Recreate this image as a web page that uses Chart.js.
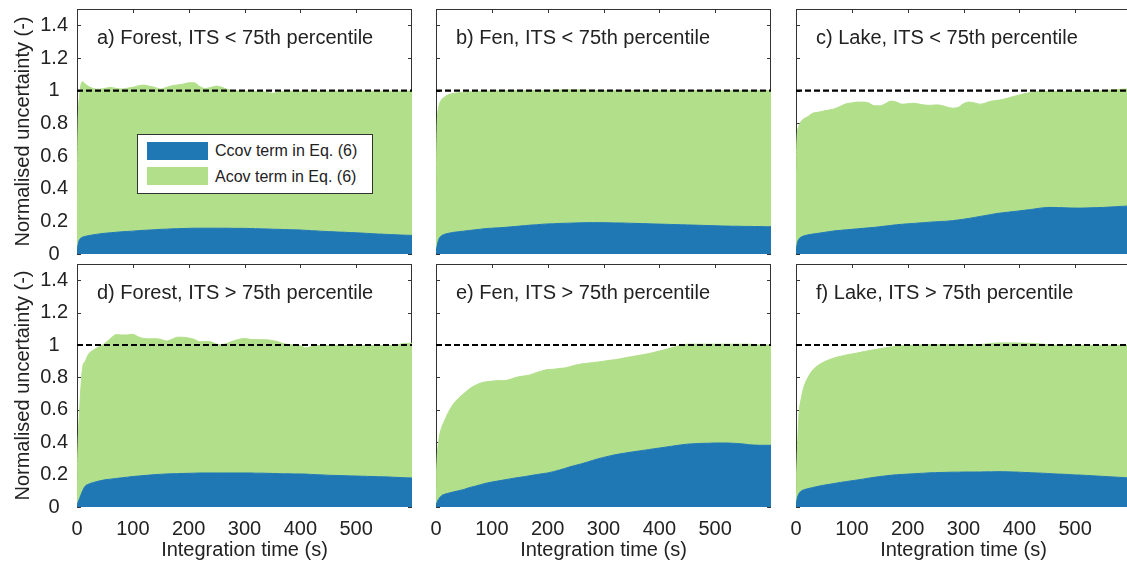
<!DOCTYPE html>
<html>
<head>
<meta charset="utf-8">
<script src="https://cdn.jsdelivr.net/npm/chart.js@4.4.0/dist/chart.umd.min.js"></script>
<style>
html,body{margin:0;padding:0;background:#fff;overflow:hidden}
#wrap{position:relative;width:1127px;height:565px;overflow:hidden;font-family:"Liberation Sans",Arial,sans-serif;color:#222;background:#fff}
#wrap canvas{position:absolute}
.ptitle{position:absolute;font-size:20px;line-height:20px;white-space:nowrap;color:#222}
#legend{position:absolute;left:137px;top:134px;width:236px;height:60px;box-sizing:border-box;border:1px solid #333;background:#fff}
.sw{position:absolute;left:9px;width:61px;height:18px}
.lt{position:absolute;left:77px;font-size:16px;line-height:16px;white-space:nowrap;color:#222}
</style>
</head>
<body>
<div id="wrap"></div>
<script>
// ---------------- data ----------------
const timeS = [0,2,5,10,15,20,
  30,40,50,60,70,80,90,100,110,120,
  130,140,150,160,170,180,190,200,210,220,
  230,240,250,260,270,280,290,300,310,320,
  330,340,350,360,370,380,390,400,410,420,
  430,440,450,460,470,480,490,500,510,520,
  530,540,550,560,570,580,590,600];

const xTickValues = [0,100,200,300,400,500];
const yTickValues = [0,0.2,0.4,0.6,0.8,1,1.2,1.4];
const refLevel = 1;

const panelTitles = [
  "a) Forest, ITS < 75th percentile",
  "b) Fen, ITS < 75th percentile",
  "c) Lake, ITS < 75th percentile",
  "d) Forest, ITS > 75th percentile",
  "e) Fen, ITS > 75th percentile",
  "f) Lake, ITS > 75th percentile"
];
const seriesNames = ["Ccov term in Eq. (6)", "Acov term in Eq. (6)"];
const xTitle = "Integration time (s)";
const yTitle = "Normalised uncertainty (-)";

// a) Forest, ITS < 75th
const forestLowCcov = [0,0.06,0.09,0.103,0.108,0.112,
  0.118,0.123,0.127,0.130,0.133,0.136,0.138,0.140,0.143,0.145,
  0.147,0.149,0.151,0.152,0.154,0.155,0.156,0.157,0.158,0.158,
  0.158,0.158,0.158,0.158,0.158,0.157,0.157,0.157,0.156,0.155,
  0.154,0.153,0.152,0.151,0.150,0.149,0.148,0.147,0.145,0.143,
  0.141,0.139,0.137,0.136,0.134,0.133,0.131,0.130,0.128,0.126,
  0.124,0.122,0.121,0.119,0.118,0.116,0.115,0.114];
const forestLowTotal = [0.30,0.80,0.98,1.055,1.040,1.027,
  1.012,1.009,1.014,1.020,1.014,1.010,1.015,1.021,1.030,1.034,
  1.027,1.020,1.010,1.020,1.030,1.035,1.040,1.048,1.048,1.025,
  1.013,1.020,1.028,1.020,1.007,1.000,0.998,0.997,0.996,0.996,
  0.995,0.990,0.984,0.990,0.996,0.997,0.997,0.997,0.997,0.997,
  0.997,0.997,0.997,0.997,0.997,0.997,0.997,0.997,0.997,0.997,
  0.997,0.997,0.997,0.997,0.997,0.997,0.997,0.997];

// b) Fen, ITS < 75th
const fenLowCcov = [0,0.05,0.09,0.112,0.120,0.125,
  0.132,0.136,0.140,0.144,0.148,0.152,0.156,0.158,0.160,0.162,
  0.165,0.168,0.171,0.174,0.177,0.179,0.182,0.184,0.185,0.187,
  0.188,0.189,0.190,0.191,0.192,0.192,0.192,0.192,0.191,0.190,
  0.190,0.189,0.188,0.187,0.186,0.185,0.184,0.183,0.182,0.181,
  0.180,0.179,0.178,0.177,0.176,0.175,0.174,0.173,0.172,0.171,
  0.170,0.170,0.169,0.169,0.168,0.168,0.167,0.167];
const fenLowTotal = [0.30,0.78,0.90,0.945,0.960,0.972,
  0.982,0.988,0.991,0.993,0.995,0.996,0.997,0.998,0.999,0.999,
  1.000,1.000,1.000,1.000,1.001,1.001,1.002,1.002,1.003,1.004,
  1.005,1.005,1.005,1.004,1.003,1.002,1.001,1.000,1.000,1.000,
  1.000,1.000,1.000,1.000,1.000,1.000,1.000,1.000,1.000,1.000,
  1.000,1.000,1.000,1.000,1.000,1.000,1.000,1.000,1.000,1.000,
  1.000,1.000,1.000,1.000,1.000,1.000,1.000,1.000];

// c) Lake, ITS < 75th
const lakeLowCcov = [0,0.06,0.09,0.105,0.112,0.116,
  0.122,0.127,0.132,0.137,0.142,0.145,0.148,0.151,0.154,0.157,
  0.160,0.163,0.167,0.171,0.175,0.179,0.182,0.185,0.187,0.190,
  0.192,0.195,0.197,0.199,0.201,0.204,0.208,0.213,0.218,0.224,
  0.230,0.236,0.242,0.248,0.252,0.256,0.260,0.264,0.268,0.272,
  0.277,0.282,0.285,0.285,0.284,0.283,0.282,0.281,0.281,0.282,
  0.283,0.284,0.285,0.287,0.289,0.291,0.293,0.294];
const lakeLowTotal = [0.50,0.72,0.78,0.815,0.830,0.838,
  0.862,0.868,0.876,0.882,0.890,0.905,0.920,0.925,0.930,0.930,
  0.925,0.908,0.907,0.920,0.936,0.930,0.917,0.920,0.923,0.918,
  0.912,0.910,0.913,0.910,0.900,0.893,0.897,0.920,0.930,0.925,
  0.917,0.925,0.936,0.940,0.946,0.955,0.965,0.974,0.982,0.989,
  0.993,0.995,0.995,0.995,0.995,0.995,0.995,0.995,0.995,0.995,
  0.995,0.997,1.000,1.003,1.005,1.008,1.010,1.010];

// d) Forest, ITS > 75th
const forestHighCcov = [0,0.03,0.056,0.100,0.130,0.140,
  0.152,0.161,0.168,0.172,0.176,0.180,0.184,0.188,0.191,0.194,
  0.197,0.200,0.202,0.204,0.205,0.206,0.207,0.208,0.209,0.210,
  0.210,0.210,0.210,0.210,0.210,0.210,0.210,0.210,0.210,0.209,
  0.209,0.208,0.207,0.206,0.205,0.205,0.204,0.204,0.203,0.201,
  0.199,0.198,0.196,0.195,0.194,0.193,0.192,0.191,0.190,0.189,
  0.188,0.187,0.186,0.185,0.183,0.182,0.180,0.179];
const forestHighTotal = [0.15,0.40,0.62,0.86,0.90,0.94,
  0.970,0.990,1.010,1.040,1.064,1.062,1.062,1.066,1.050,1.040,
  1.038,1.039,1.035,1.025,1.035,1.048,1.048,1.043,1.035,1.020,
  1.022,1.020,1.005,1.003,1.012,1.025,1.035,1.040,1.035,1.033,
  1.033,1.032,1.028,1.020,1.008,1.003,0.999,0.995,0.982,0.990,
  0.997,0.997,0.997,0.997,0.997,0.997,0.997,0.997,0.997,0.997,
  0.997,0.997,0.997,0.997,0.997,1.006,1.010,1.010];

// e) Fen, ITS > 75th
const fenHighCcov = [0,0.03,0.05,0.070,0.078,0.083,
  0.092,0.100,0.108,0.120,0.128,0.138,0.147,0.154,0.160,0.166,
  0.172,0.178,0.183,0.188,0.194,0.200,0.205,0.210,0.218,0.227,
  0.237,0.248,0.257,0.266,0.276,0.287,0.297,0.306,0.314,0.322,
  0.328,0.334,0.339,0.344,0.349,0.354,0.359,0.364,0.369,0.374,
  0.379,0.384,0.388,0.390,0.392,0.393,0.394,0.395,0.395,0.395,
  0.394,0.392,0.389,0.385,0.382,0.381,0.381,0.381];
const fenHighTotal = [0.10,0.30,0.41,0.49,0.53,0.57,
  0.630,0.670,0.700,0.730,0.750,0.765,0.773,0.777,0.780,0.780,
  0.785,0.797,0.805,0.810,0.817,0.830,0.840,0.848,0.850,0.855,
  0.858,0.866,0.876,0.883,0.887,0.891,0.895,0.900,0.905,0.909,
  0.915,0.922,0.928,0.934,0.940,0.946,0.954,0.963,0.971,0.981,
  0.990,1.000,1.005,1.005,1.005,1.005,1.005,1.005,1.005,1.005,
  1.005,1.005,1.005,1.005,1.003,1.000,1.000,1.000];

// f) Lake, ITS > 75th
const lakeHighCcov = [0,0.05,0.08,0.100,0.107,0.112,
  0.120,0.128,0.135,0.140,0.146,0.152,0.157,0.162,0.167,0.172,
  0.178,0.183,0.188,0.192,0.196,0.199,0.201,0.203,0.205,0.207,
  0.209,0.211,0.212,0.213,0.214,0.215,0.215,0.216,0.216,0.216,
  0.216,0.217,0.217,0.218,0.218,0.217,0.216,0.215,0.213,0.212,
  0.210,0.209,0.207,0.205,0.203,0.202,0.200,0.198,0.197,0.195,
  0.193,0.191,0.189,0.187,0.185,0.183,0.181,0.179];
const lakeHighTotal = [0.10,0.30,0.55,0.68,0.75,0.79,
  0.845,0.875,0.895,0.910,0.922,0.930,0.938,0.945,0.951,0.958,
  0.965,0.971,0.977,0.983,0.988,0.992,0.995,0.997,0.999,1.000,
  1.001,1.002,1.002,1.002,1.002,1.002,1.002,1.002,1.002,1.002,
  1.003,1.006,1.010,1.012,1.013,1.013,1.013,1.012,1.011,1.010,
  1.008,1.006,1.002,0.999,0.998,0.998,0.998,0.998,0.998,0.998,
  0.998,0.998,0.998,0.998,0.998,0.998,0.998,0.998];

// ---------------- styling / layout ----------------
const BLUE = '#1f78b4';
const GREEN = '#b2df8a';
const AXIS = '#333333';
const TXT = '#222222';
const FONT = '"Liberation Sans", Arial, sans-serif';
const colPlotLeft = [77, 436, 796];
const PLOT_W = 335;

const panels = [
  {title: panelTitles[0], ccov: forestLowCcov,  total: forestLowTotal,  col:0, row:0},
  {title: panelTitles[1], ccov: fenLowCcov,     total: fenLowTotal,     col:1, row:0},
  {title: panelTitles[2], ccov: lakeLowCcov,    total: lakeLowTotal,    col:2, row:0},
  {title: panelTitles[3], ccov: forestHighCcov, total: forestHighTotal, col:0, row:1},
  {title: panelTitles[4], ccov: fenHighCcov,    total: fenHighTotal,    col:1, row:1},
  {title: panelTitles[5], ccov: lakeHighCcov,   total: lakeHighTotal,   col:2, row:1}
];

const boxPlugin = {
  id: 'matlabBox',
  beforeDatasetsDraw(chart) {
    const {ctx, chartArea, scales} = chart;
    const {left, right, top, bottom} = chartArea;
    ctx.save();
    ctx.strokeStyle = AXIS;
    ctx.lineWidth = 1;
    ctx.strokeRect(left + 0.5, top + 0.5, right - left - 1, bottom - top - 1);
    ctx.beginPath();
    xTickValues.forEach(v => {
      const px = Math.round(scales.x.getPixelForValue(v)) + 0.5;
      ctx.moveTo(px, top); ctx.lineTo(px, top + 4);
      ctx.moveTo(px, bottom); ctx.lineTo(px, bottom - 4);
    });
    yTickValues.forEach(v => {
      const py = Math.round(scales.y.getPixelForValue(v)) + 0.5;
      ctx.moveTo(left, py); ctx.lineTo(left + 4, py);
      ctx.moveTo(right, py); ctx.lineTo(right - 4, py);
    });
    ctx.stroke();
    ctx.restore();
  }
};

const wrap = document.getElementById('wrap');

function toXY(arr) { return timeS.map((t, i) => ({x: t, y: arr[i]})); }

panels.forEach(p => {
  const isLeft = p.col === 0;
  const isBottom = p.row === 1;
  const plotLeft = colPlotLeft[p.col];
  const padLeft = isLeft ? 0 : 20;
  const canvasLeft = isLeft ? 0 : plotLeft - padLeft;
  const canvasTop = isBottom ? 255 : 0;
  const canvasH = isBottom ? 310 : 264;
  const canvasW = plotLeft + PLOT_W - canvasLeft;

  const cv = document.createElement('canvas');
  cv.width = canvasW; cv.height = canvasH;
  cv.style.left = canvasLeft + 'px';
  cv.style.top = canvasTop + 'px';
  cv.style.width = canvasW + 'px';
  cv.style.height = canvasH + 'px';
  wrap.appendChild(cv);

  const t = document.createElement('div');
  t.className = 'ptitle';
  t.textContent = p.title;
  t.style.left = (plotLeft + 20) + 'px';
  t.style.top = (isBottom ? 282 : 27) + 'px';
  wrap.appendChild(t);

  const refData = [{x: timeS[0], y: refLevel}, {x: timeS[timeS.length - 1], y: refLevel}];

  const yScale = {
    type: 'linear', min: 0, max: 1.5, display: isLeft,
    afterBuildTicks: s => { s.ticks = yTickValues.map(v => ({value: v})); },
    afterFit: s => { if (isLeft) s.width = 77; s.paddingTop = 0; s.paddingBottom = 0; },
    grid: {display: false, drawTicks: false},
    border: {display: false},
    ticks: {font: {family: FONT, size: 20}, color: TXT, padding: 9, crossAlign: 'center',
            callback: v => String(+Number(v).toFixed(1))},
    title: {display: true, text: yTitle, font: {family: FONT, size: 20}, color: TXT,
            padding: {top: 11, bottom: 0}}
  };
  const xScale = {
    type: 'linear', min: 0, max: 600, display: isBottom,
    afterBuildTicks: s => { s.ticks = xTickValues.map(v => ({value: v})); },
    afterFit: s => { if (isBottom) s.height = 58; s.paddingLeft = 0; s.paddingRight = 0; },
    grid: {display: false, drawTicks: false},
    border: {display: false},
    ticks: {font: {family: FONT, size: 20}, color: TXT, padding: 10, maxRotation: 0, autoSkip: false,
            callback: v => String(v)},
    title: {display: true, text: xTitle, font: {family: FONT, size: 20}, color: TXT,
            padding: {top: 0, bottom: 3}}
  };

  new Chart(cv, {
    type: 'line',
    data: {
      datasets: [
        {label: 'ref', data: refData, borderColor: '#000', borderWidth: 2.2, borderDash: [6, 3],
         pointRadius: 0, fill: false, tension: 0},
        {label: seriesNames[0], data: toXY(p.ccov), borderColor: BLUE, backgroundColor: BLUE,
         borderWidth: 1, pointRadius: 0, fill: 'origin', cubicInterpolationMode: 'monotone'},
        {label: seriesNames[1], data: toXY(p.total), borderColor: GREEN, backgroundColor: GREEN,
         borderWidth: 1, pointRadius: 0, fill: '-1', cubicInterpolationMode: 'monotone'}
      ]
    },
    options: {
      responsive: false,
      animation: false,
      devicePixelRatio: 1,
      layout: {padding: {top: 9, bottom: isBottom ? 0 : 10, left: padLeft, right: 0}},
      plugins: {legend: {display: false}, tooltip: {enabled: false}},
      scales: {x: xScale, y: yScale}
    },
    plugins: [boxPlugin]
  });
});

// legend in panel a
const lg = document.createElement('div');
lg.id = 'legend';
lg.innerHTML =
  '<div class="sw" style="top:7px;background:' + BLUE + '"></div>' +
  '<div class="lt" style="top:8px"></div>' +
  '<div class="sw" style="top:32px;background:' + GREEN + '"></div>' +
  '<div class="lt" style="top:34px"></div>';
const lts = lg.querySelectorAll('.lt');
lts[0].textContent = seriesNames[0];
lts[1].textContent = seriesNames[1];
wrap.appendChild(lg);
</script>
</body>
</html>
